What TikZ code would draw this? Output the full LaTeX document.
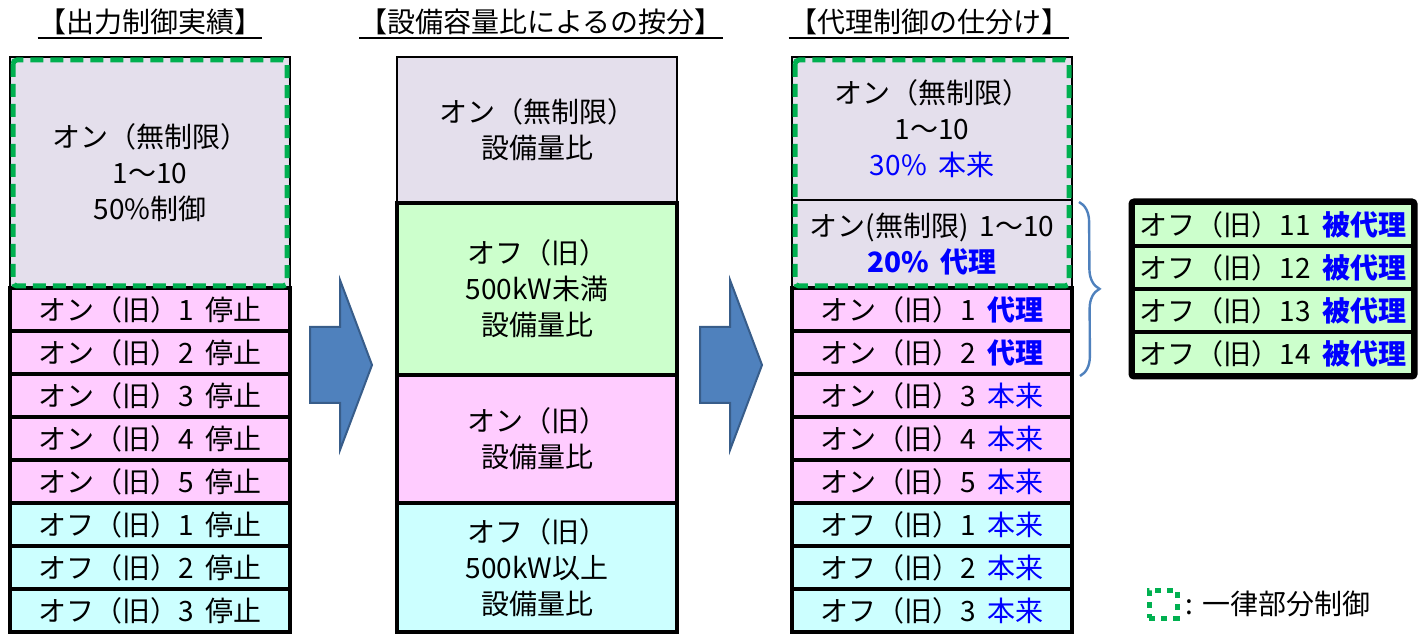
\documentclass[tikz,border=0pt]{standalone}
\usepackage{fontspec}
\setmainfont{Noto Sans CJK JP}
\usetikzlibrary{calc,decorations.pathreplacing}
\definecolor{grayfill}{RGB}{228,223,236}
\definecolor{pinkfill}{RGB}{255,204,255}
\definecolor{cyanfill}{RGB}{204,255,255}
\definecolor{greenfill}{RGB}{204,255,204}
\definecolor{dashgreen}{RGB}{0,176,80}
\definecolor{arrowblue}{RGB}{79,129,189}
\definecolor{arrowedge}{RGB}{56,93,138}
\definecolor{txtblue}{RGB}{0,0,255}
\newcommand{\gap}{\hspace{0.4em}}
\newcommand{\hon}{\textcolor{txtblue}{本来}}
\newcommand{\dairi}{\textcolor{txtblue}{\bfseries 代理}}
\tikzset{
  cell/.style={rectangle,draw,line width=2pt,inner sep=0pt,minimum width=140pt,
    minimum height=21.5pt,align=center,font=\fontsize{14}{18}\selectfont},
  thincell/.style={cell,line width=1pt},
  title/.style={inner sep=0pt,font=\fontsize{14}{18}\selectfont},
  greendash/.style={draw=dashgreen,line width=2.5pt,dash pattern=on 6.5pt off 3.5pt,rounded corners=2pt},
  bigarrow/.style={fill=arrowblue,draw=arrowedge,line width=1pt}
}
\begin{document}
\begin{tikzpicture}[x=0.5pt,y=-0.5pt]
  \useasboundingbox (0,0) rectangle (1422,635);
  % titles
  \node[title,anchor=base] (t1) at (150,33) {【出力制御実績】};
  \node[title,anchor=base] (t2) at (541,33) {【設備容量比によるの按分】};
  \node[title,anchor=base] (t3) at (929,33) {【代理制御の仕分け】};
  \foreach \t in {t1,t2,t3}
    \draw[line width=1pt] ($(\t.base west)+(0,5)$) -- ($(\t.base east)+(0,5)$);

  % column 1
  \node[thincell,fill=grayfill,minimum height=115.5pt] (a0) at (150,172.5)
    {オン（無制限）\\1～10\\50\%制御};
  \foreach \k in {1,...,5}
    \node[cell,fill=pinkfill] (a\k) at (150,{309.5+43*(\k-1)}) {オン（旧）\k\gap 停止};
  \foreach \k in {1,2,3}
    \node[cell,fill=cyanfill] (a\the\numexpr\k+5\relax) at (150,{524.5+43*(\k-1)}) {オフ（旧）\k\gap 停止};
  \draw[greendash] ($(a0.north west)+(4,4)$) rectangle ($(a0.south east)+(-4,-3)$);

  % column 2
  \node[thincell,fill=grayfill,minimum height=73pt] (b1) at (537,130) {オン（無制限）\\設備量比};
  \node[cell,fill=greenfill,minimum height=86pt] (b2) at (537,289) {オフ（旧）\\500kW未満\\設備量比};
  \node[cell,fill=pinkfill,minimum height=64pt] (b3) at (537,439) {オン（旧）\\設備量比};
  \node[cell,fill=cyanfill,minimum height=64.5pt] (b4) at (537,567.5) {オフ（旧）\\500kW以上\\設備量比};

  % column 3
  \node[thincell,fill=grayfill,minimum height=71.5pt] (c0) at (932,128.5)
    {オン（無制限）\\1～10\\\textcolor{txtblue}{30\%\gap 本来}};
  \node[thincell,fill=grayfill,minimum height=44pt] (cx) at (932,244)
    {オン(無制限)\gap 1～10\\\textcolor{txtblue}{\bfseries 20\%\gap 代理}};
  \node[cell,fill=pinkfill] (c1) at (932,309.5) {オン（旧）1\gap\dairi};
  \node[cell,fill=pinkfill] (c2) at (932,352.5) {オン（旧）2\gap\dairi};
  \foreach \k in {3,4,5}
    \node[cell,fill=pinkfill] (c\k) at (932,{309.5+43*(\k-1)}) {オン（旧）\k\gap\hon};
  \foreach \k in {1,2,3}
    \node[cell,fill=cyanfill] (c\the\numexpr\k+5\relax) at (932,{524.5+43*(\k-1)}) {オフ（旧）\k\gap\hon};
  \draw[greendash] ($(c0.north west)+(4,4)$) rectangle ($(cx.south east)+(-4,-3)$);

  % substituted plants
  \foreach \k in {1,...,4}
    \node[cell,fill=greenfill] (s\k) at (1273,{224.5+43*(\k-1)})
      {オフ（旧）1\k\gap\textcolor{txtblue}{\bfseries 被代理}};
  \draw[line width=2.5pt,rounded corners=1.5pt] (s1.north west) rectangle (s4.south east);

  % arrows
  \draw[bigarrow] (310,327) -- (340,327) -- (340,280) -- (372,365) -- (340,450) -- (340,403) -- (310,403) -- cycle;
  \draw[bigarrow] (700,327) -- (730,327) -- (730,280) -- (762,365) -- (730,450) -- (730,403) -- (700,403) -- cycle;

  % brace
  \coordinate (brtop) at ($(cx.north east)+(6,3)$);
  \coordinate (brbot) at ($(c2.south east)+(6,0)$);
  \draw[arrowblue,line width=1.2pt,decorate,decoration={brace,amplitude=10pt}] (brtop) -- (brbot);

  % legend
  \node[draw=dashgreen,line width=2.5pt,dash pattern=on 3pt off 3pt,minimum size=14pt,inner sep=0pt] (lg) at (1163,604) {};
  \node[title,anchor=west] (lgt) at ($(lg.east)+(6,0)$) {: 一律部分制御};
\end{tikzpicture}
\end{document}
